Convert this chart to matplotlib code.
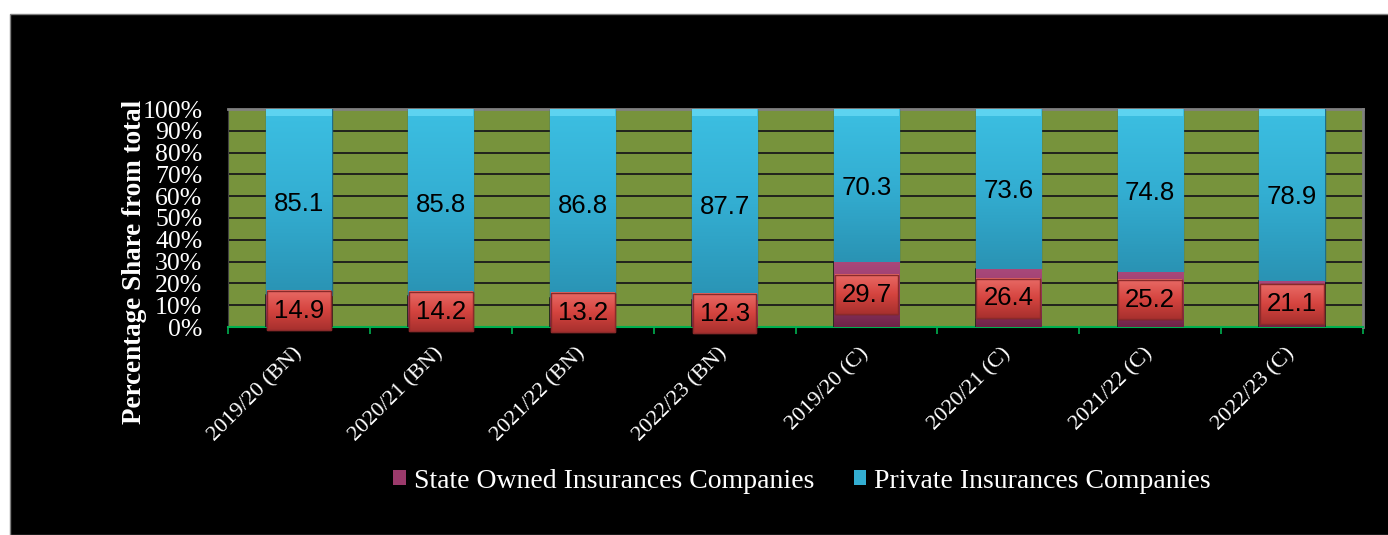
import numpy as np
import matplotlib
matplotlib.use('Agg')
from matplotlib import pyplot as plt
from matplotlib.patches import Rectangle
from matplotlib.colors import LinearSegmentedColormap

# Chart data
categories = ['2019/20 (BN)', '2020/21 (BN)', '2021/22 (BN)', '2022/23 (BN)',
              '2019/20 (C)', '2020/21 (C)', '2021/22 (C)', '2022/23 (C)']
state_owned = [14.9, 14.2, 13.2, 12.3, 29.7, 26.4, 25.2, 21.1]
private = [85.1, 85.8, 86.8, 87.7, 70.3, 73.6, 74.8, 78.9]
y_ticks = [0, 10, 20, 30, 40, 50, 60, 70, 80, 90, 100]

serif = ['Liberation Serif', 'DejaVu Serif']
sans = ['Liberation Sans', 'DejaVu Sans']

fig = plt.figure(figsize=(13.88, 5.35), dpi=100, facecolor='white')
fig.patches.append(Rectangle((10 / 1388, 0), 1, 1 - 14 / 535, transform=fig.transFigure,
                             facecolor='black', edgecolor='#808080', linewidth=1, zorder=-10))

ax = fig.add_axes([228 / 1388, 1 - 327 / 535, (1363 - 228) / 1388, (327 - 109) / 535])
ax.set_facecolor('#77933C')

x = np.arange(len(categories))
width = 0.46

blue_cmap = LinearSegmentedColormap.from_list('blue', ['#2A93B4', '#33AED2', '#3CBFE2'])
red_cmap = LinearSegmentedColormap.from_list('red', ['#A8302E', '#D5443F', '#E86A66'])
purple_cmap = LinearSegmentedColormap.from_list('purple', ['#6E2448', '#9B3A6B', '#A8487A'])


def gradient_fill(patch, cmap, zorder):
    x0, y0 = patch.get_x(), patch.get_y()
    w, h = patch.get_width(), patch.get_height()
    grad = np.linspace(0, 1, 64).reshape(-1, 1)
    im = ax.imshow(grad, cmap=cmap, origin='lower', aspect='auto',
                   extent=[x0, x0 + w, y0, y0 + h], zorder=zorder)
    im.set_clip_path(patch)
    im.set_clip_on(True)


state_bars = ax.bar(x, state_owned, width, color='#9B3A6B', edgecolor='#1A1A1A',
                    linewidth=1.2, zorder=3, label='State Owned Insurances Companies')
private_bars = ax.bar(x, private, width, bottom=state_owned, color='#33AED2',
                      edgecolor='#1F6E88', linewidth=1, zorder=3,
                      label='Private Insurances Companies')
for b in state_bars:
    gradient_fill(b, purple_cmap, 3.1)
for b in private_bars:
    gradient_fill(b, blue_cmap, 3.1)
    # light bevel at top of bar
    ax.add_patch(Rectangle((b.get_x(), b.get_y() + b.get_height() - 3), b.get_width(), 3,
                           facecolor='#5DD3F0', edgecolor='none', zorder=3.2))

# labels for private share
for xi, s, p in zip(x, state_owned, private):
    ax.text(xi, s + p / 2 - 1, f'{p:.1f}', ha='center', va='center', fontsize=18.5,
            family=sans, color='black', zorder=6)

# red boxed labels for state owned share
box_h = 18
for xi, s in zip(x, state_owned):
    r = Rectangle((xi - 0.225, s / 2 - box_h / 2), 0.45, box_h, facecolor='#D3423E',
                  edgecolor='#7A2020', linewidth=1, zorder=4, clip_on=False)
    ax.add_patch(r)
    grad = np.linspace(0, 1, 64).reshape(-1, 1)
    im = ax.imshow(grad, cmap=red_cmap, origin='lower', aspect='auto',
                   extent=[xi - 0.225, xi + 0.225, s / 2 - box_h / 2, s / 2 + box_h / 2],
                   zorder=4.1)
    im.set_clip_path(r)
    im.set_clip_on(False)
    ax.add_patch(Rectangle((xi - 0.225, s / 2 - box_h / 2), 0.45, box_h, facecolor='none',
                           edgecolor='#8A2A2A', linewidth=1, zorder=4.2, clip_on=False))
    ax.text(xi, s / 2, f'{s:.1f}', ha='center', va='center', fontsize=18.5,
            family=sans, color='black', zorder=6)

ax.set_xlim(-0.5, len(categories) - 0.5)
ax.set_ylim(0, 100)
ax.set_yticks(y_ticks)
ax.set_yticklabels([f'{t}%' for t in y_ticks], family=serif, fontsize=18.5, color='white')
ax.tick_params(axis='y', length=0, pad=18.5)
ax.yaxis.grid(True, color='#1A1A1A', linewidth=1.3, zorder=1)
ax.set_axisbelow(True)

ax.set_xticks(x)
ax.set_xticklabels(categories, family=serif, fontsize=16, color='white',
                   rotation=45, ha='right', va='center', rotation_mode='anchor')
ax.tick_params(axis='x', length=0, pad=17)
ax.set_xticks(np.arange(-0.5, len(categories), 1), minor=True)
ax.tick_params(axis='x', which='minor', length=5, color='#00B050', width=1.2)

ax.spines['bottom'].set_color('#00B050')
ax.spines['bottom'].set_linewidth(1.5)
ax.spines['top'].set_color('#808080')
ax.spines['top'].set_linewidth(2)
ax.spines['right'].set_color('#808080')
ax.spines['right'].set_linewidth(2)
ax.spines['left'].set_color('#404040')

ax.set_ylabel('Percentage Share from total', family=serif, fontsize=19.5,
              fontweight='bold', color='white')
ax.yaxis.set_label_coords(-0.071, 0.30)

leg = fig.legend(handles=[state_bars, private_bars], loc='center',
                 bbox_to_anchor=(0.578, 1 - 481 / 535), ncol=2, frameon=False,
                 prop={'family': serif, 'size': 20}, handlelength=0.45, handleheight=0.45,
                 handletextpad=0.3, columnspacing=1.4)
for t in leg.get_texts():
    t.set_color('white')
for h in leg.legend_handles:
    h.set_edgecolor('none')

plt.savefig('out.png', dpi=100, facecolor=fig.get_facecolor())
